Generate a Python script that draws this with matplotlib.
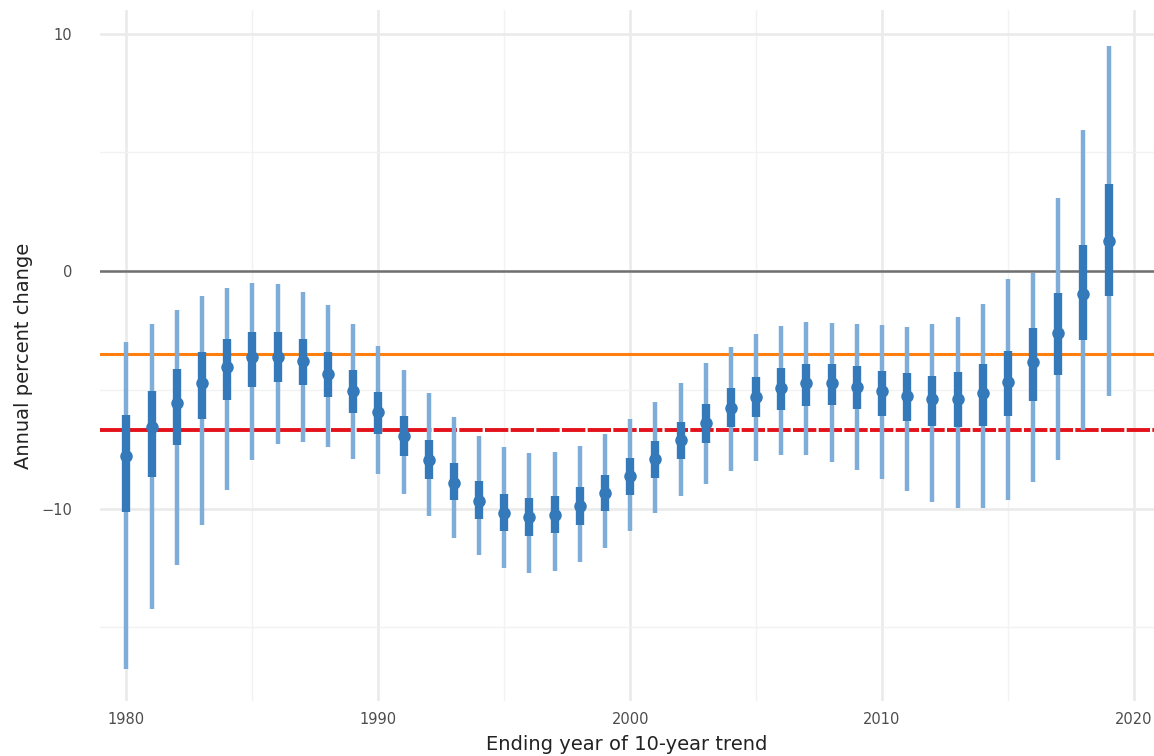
import matplotlib.pyplot as plt
import numpy as np

years = np.arange(1980, 2020)

estimate = [-7.80, -6.58, -5.56, -4.69, -4.02, -3.60, -3.60, -3.80, -4.31, -5.04,
            -5.91, -6.93, -7.94, -8.92, -9.66, -10.18, -10.36, -10.25, -9.90, -9.34,
            -8.64, -7.90, -7.13, -6.40, -5.77, -5.28, -4.93, -4.72, -4.72, -4.89,
            -5.04, -5.24, -5.38, -5.38, -5.14, -4.68, -3.84, -2.62, -0.98, 1.27]

inner_hi = [-6.05, -5.04, -4.13, -3.39, -2.86, -2.58, -2.58, -2.87, -3.39, -4.16,
            -5.07, -6.12, -7.13, -8.08, -8.85, -9.37, -9.55, -9.45, -9.10, -8.57,
            -7.87, -7.17, -6.37, -5.60, -4.93, -4.44, -4.09, -3.91, -3.91, -3.99,
            -4.19, -4.30, -4.40, -4.26, -3.91, -3.35, -2.41, -0.90, 1.09, 3.66]
inner_lo = [-10.15, -8.67, -7.34, -6.23, -5.42, -4.86, -4.65, -4.80, -5.31, -5.98,
            -6.85, -7.77, -8.74, -9.65, -10.42, -10.94, -11.16, -11.02, -10.67, -10.11,
            -9.44, -8.71, -7.91, -7.24, -6.57, -6.15, -5.84, -5.67, -5.63, -5.81,
            -6.08, -6.29, -6.54, -6.58, -6.50, -6.12, -5.45, -4.37, -2.90, -1.04]

outer_hi = [-2.97, -2.23, -1.64, -1.04, -0.69, -0.49, -0.56, -0.87, -1.43, -2.23,
            -3.14, -4.16, -5.14, -6.15, -6.93, -7.41, -7.66, -7.62, -7.35, -6.86,
            -6.23, -5.49, -4.69, -3.88, -3.18, -2.65, -2.30, -2.13, -2.17, -2.23,
            -2.27, -2.34, -2.23, -1.95, -1.39, -0.35, -0.07, 3.08, 5.95, 9.50]
outer_lo = [-16.76, -14.24, -12.38, -10.67, -9.23, -7.97, -7.28, -7.21, -7.41, -7.91,
            -8.53, -9.37, -10.29, -11.23, -11.97, -12.50, -12.73, -12.61, -12.25, -11.65,
            -10.95, -10.18, -9.48, -8.95, -8.43, -7.98, -7.73, -7.73, -8.05, -8.36,
            -8.74, -9.27, -9.73, -9.97, -9.97, -9.62, -8.88, -7.97, -6.68, -5.24]

zero_line = 0
orange_line = -3.5
red_line = -6.68

fig = plt.figure(figsize=(11.54, 7.56), dpi=100)
ax = fig.add_axes([0.0867, 0.0728, 0.9133, 0.914])

# grid like ggplot theme_minimal
ax.set_xticks([1980, 1990, 2000, 2010, 2020])
ax.set_xticks([1985, 1995, 2005, 2015], minor=True)
ax.set_yticks([-10, 0, 10])
ax.set_yticks([-15, -5, 5], minor=True)
ax.grid(which='major', color='#ebebeb', linewidth=2.0, zorder=0)
ax.grid(which='minor', color='#f2f2f2', linewidth=1.0, zorder=0)
ax.set_axisbelow(True)

ax.axhline(zero_line, color='#707070', linewidth=1.8, zorder=1)
ax.axhline(orange_line, color='#ff7f0e', linewidth=2.2, zorder=1)
ax.axhline(red_line, color='#e3121b', linewidth=2.8, linestyle=(0, (6, 0.6)), zorder=1)

ax.vlines(years, outer_lo, outer_hi, color='#7dadd8', linewidth=3.2, zorder=2)
ax.vlines(years, inner_lo, inner_hi, color='#3479b9', linewidth=6.0, zorder=3)
ax.plot(years, estimate, 'o', color='#3479b9', markersize=8, zorder=4)

ax.set_xlim(1978.95, 2020.8)
ax.set_ylim(-18.1, 11.0)

for s in ax.spines.values():
    s.set_visible(False)
ax.tick_params(which='both', length=0)
ax.tick_params(axis='x', labelsize=10.5, labelcolor='#4d4d4d', pad=8)
ax.tick_params(axis='y', labelsize=10.5, labelcolor='#4d4d4d', pad=20)
ax.set_yticklabels(['\u221210', '0', '10'])

ax.set_xlabel('Ending year of 10-year trend', fontsize=14, color='#222222', labelpad=6)
ax.set_ylabel('Annual percent change', fontsize=14, color='#222222', labelpad=6)

fig.savefig('out.png', dpi=100)
